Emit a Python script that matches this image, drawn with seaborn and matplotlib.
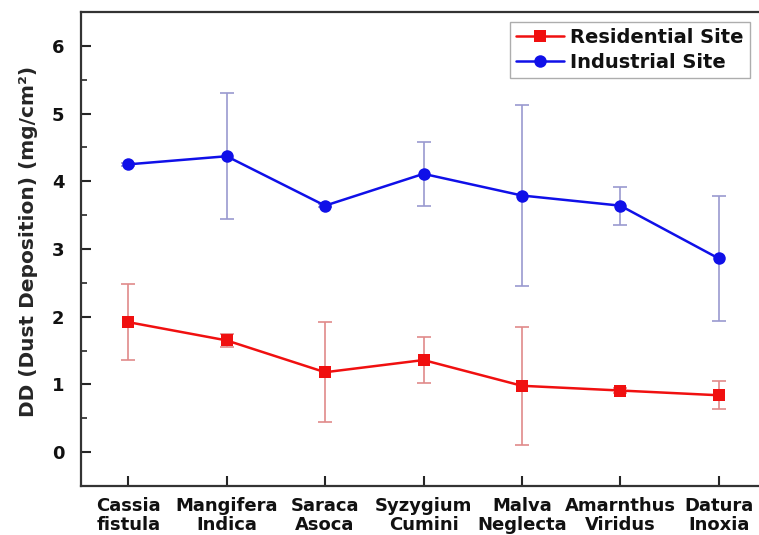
import numpy as np
import pandas as pd
import seaborn as sns
import matplotlib.pyplot as plt
from matplotlib.ticker import MultipleLocator

plants = ["Cassia\nfistula", "Mangifera\nIndica", "Saraca\nAsoca", "Syzygium\nCumini",
          "Malva\nNeglecta", "Amarnthus\nViridus", "Datura\nInoxia"]
residential = [1.92, 1.65, 1.18, 1.36, 0.98, 0.91, 0.84]
residential_err = [0.56, 0.10, 0.74, 0.34, 0.87, 0.03, 0.21]
industrial = [4.25, 4.37, 3.64, 4.11, 3.79, 3.64, 2.86]
industrial_err = [0.02, 0.93, 0.02, 0.47, 1.33, 0.28, 0.92]

sns.set_style("ticks")
plt.rcParams["font.family"] = ["DejaVu Sans"]
plt.rcParams["font.weight"] = "bold"
plt.rcParams["text.color"] = "#111111"
plt.rcParams["xtick.labelcolor"] = "#111111"
plt.rcParams["ytick.labelcolor"] = "#111111"

fig = plt.figure(figsize=(7.59, 5.35), dpi=100)
ax = fig.add_axes([81 / 759, 1 - 486 / 535, (766 - 81) / 759, (486 - 12) / 535])

x = np.arange(len(plants))
df = pd.DataFrame({
    "x": np.concatenate([x, x]),
    "DD": residential + industrial,
    "site": ["Residential Site"] * len(x) + ["Industrial Site"] * len(x),
})

ax.errorbar(x, residential, yerr=residential_err, fmt="none", ecolor="#e08a8a",
            elinewidth=1.2, capsize=5, capthick=1.2, zorder=1)
ax.errorbar(x, industrial, yerr=industrial_err, fmt="none", ecolor="#9a9ad0",
            elinewidth=1.2, capsize=5, capthick=1.2, zorder=1)

sns.lineplot(data=df, x="x", y="DD", hue="site", style="site",
             palette={"Residential Site": "#f01010", "Industrial Site": "#1010e8"},
             markers={"Residential Site": "s", "Industrial Site": "o"},
             dashes=False, linewidth=1.8, markersize=9, markeredgewidth=0,
             ax=ax, zorder=3)

ax.set_xlim(-0.48, 6.48)
ax.set_ylim(-0.5, 6.5)
ax.set_xticks(x)
ax.set_xticklabels(plants, fontsize=13, fontweight="bold", linespacing=1.05)
ax.yaxis.set_major_locator(MultipleLocator(1))
ax.yaxis.set_minor_locator(MultipleLocator(0.5))
ax.tick_params(axis="both", which="major", direction="in", length=7, width=1.5,
               labelsize=13)
ax.tick_params(axis="x", pad=8)
ax.tick_params(axis="y", pad=12)
ax.tick_params(axis="y", which="minor", direction="in", length=4, width=1.2)
ax.tick_params(top=False, right=False)
for lab in ax.get_yticklabels():
    lab.set_fontweight("bold")
ax.set_xlabel("")
ax.set_ylabel("DD (Dust Deposition) (mg/cm²)", fontsize=14.5, fontweight="bold")
ax.yaxis.set_label_coords(-0.063, 0.517)

for side in ["left", "bottom", "top"]:
    ax.spines[side].set_linewidth(1.6)
    ax.spines[side].set_color("#333333")
ax.spines["right"].set_visible(False)

leg = ax.legend(loc="upper left", bbox_to_anchor=((510 - 81) / 685, 1 - 10 / 474),
                frameon=True, fancybox=False, edgecolor="#999999", fontsize=14,
                borderpad=0.3, labelspacing=0.3, handlelength=2.5, handletextpad=0.3,
                borderaxespad=0)
for t in leg.get_texts():
    t.set_fontweight("bold")

fig.savefig("out.png", dpi=100)
